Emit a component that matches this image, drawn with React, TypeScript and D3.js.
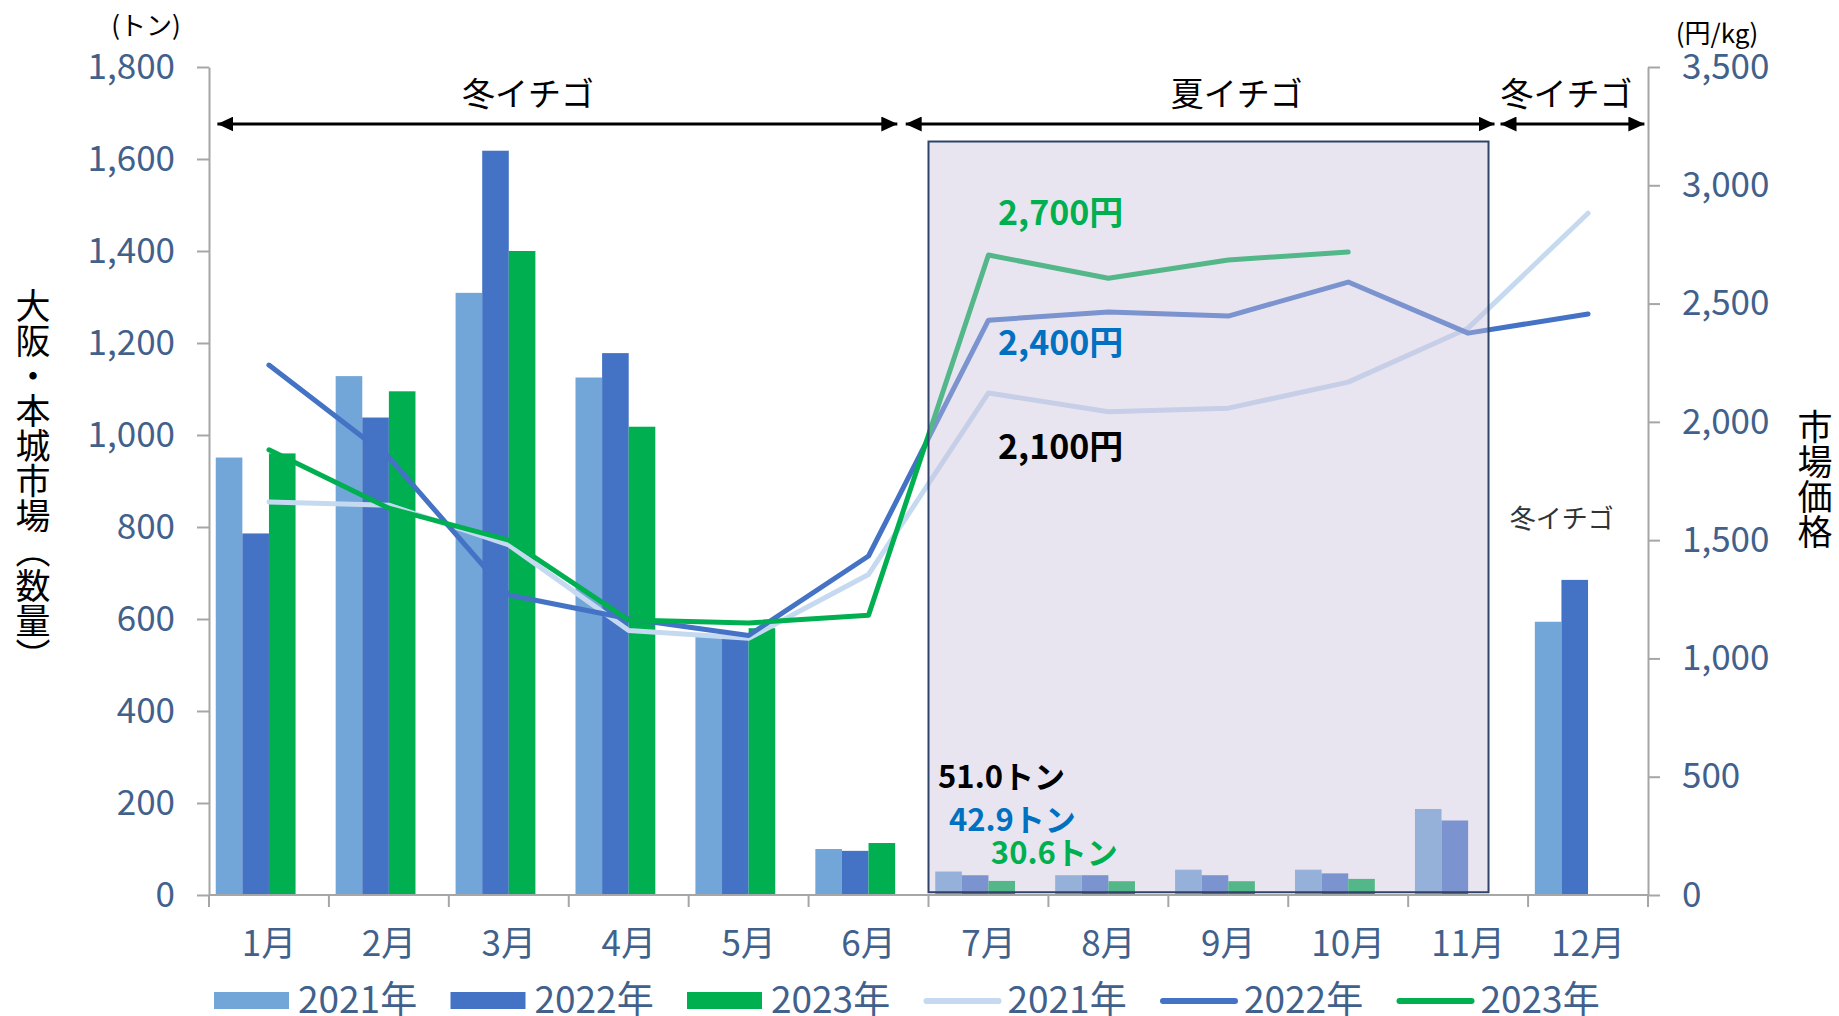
import { useEffect, useRef } from 'react'
import * as d3 from 'd3'

const months = ['1月', '2月', '3月', '4月', '5月', '6月', '7月', '8月', '9月', '10月', '11月', '12月']
const years = ['2021年', '2022年', '2023年']

// 数量（トン）
const tons2021 = [951, 1128, 1309, 1125, 565, 100, 51.0, 43, 55, 55, 187, 594]
const tons2022 = [786, 1038, 1618, 1178, 558, 96, 42.9, 43, 43, 47, 162, 685]
const tons2023 = [960, 1095, 1400, 1018, 580, 113, 30.6, 30, 30, 35, null, null]

// 市場価格（円/kg）
const price2021 = [1661, 1648, 1480, 1118, 1085, 1355, 2122, 2043, 2058, 2168, 2396, 2882]
const price2022 = [2240, 1850, 1268, 1168, 1097, 1433, 2430, 2464, 2447, 2591, 2375, 2456]
const price2023 = [1882, 1635, 1500, 1162, 1150, 1183, 2705, 2607, 2684, 2718, null, null]

const tonTicks = [0, 200, 400, 600, 800, 1000, 1200, 1400, 1600, 1800]
const priceTicks = [0, 500, 1000, 1500, 2000, 2500, 3000, 3500]

// season arrows, in month-index units
const seasons = [
  { label: '冬イチゴ', from: 0.07, to: 5.74, at: 2.66 },
  { label: '夏イチゴ', from: 5.81, to: 10.72, at: 8.57 },
  { label: '冬イチゴ', from: 10.77, to: 11.97, at: 11.32 },
]

const priceNotes = [
  { text: '2,700円', value: 2882, color: '#00B050' },
  { text: '2,400円', value: 2333, color: '#0070C0' },
  { text: '2,100円', value: 1893, color: '#000000' },
]

const tonNotes = [
  { text: '51.0トン', value: 256, at: 6.08, color: '#000000' },
  { text: '42.9トン', value: 163, at: 6.17, color: '#0070C0' },
  { text: '30.6トン', value: 91, at: 6.52, color: '#00B050' },
]

const barColors = ['#72A5D8', '#4472C4', '#00B050']
const lineColors = ['#C5DAF0', '#4472C4', '#00B050']
const tickColor = '#41618C'
const FONT = "'Noto Sans CJK JP', 'Noto Sans', sans-serif"

function App() {
  const svgRef = useRef(null)

  useEffect(() => {
    if (!svgRef.current) return
    const svg = d3.select(svgRef.current)
    svg.selectAll('*').remove()

    const W = 1839
    const H = 1016
    const left = 209
    const right = 1648
    const top = 67
    const bottom = 895

    svg.attr('width', W).attr('height', H).style('font-family', FONT)

    const x = d3.scaleBand().domain(months).range([left, right]).padding(0)
    const xi = d3.scaleLinear().domain([0, months.length]).range([left, right])
    // the original chart reserves a 4th (empty) slot in each month
    const sub = d3
      .scaleBand()
      .domain([...years, ''])
      .range([0, x.bandwidth()])
      .paddingInner(0)
      .paddingOuter(0.254)
    const yTon = d3.scaleLinear().domain([0, 1800]).range([bottom, top])
    const yPrice = d3.scaleLinear().domain([0, 3500]).range([bottom, top])

    const tons = [tons2021, tons2022, tons2023]
    const prices = [price2021, price2022, price2023]

    // bars
    tons.forEach((series, i) => {
      svg
        .append('g')
        .selectAll('rect')
        .data(series.map((v, j) => ({ v, m: months[j] })).filter((d) => d.v != null))
        .enter()
        .append('rect')
        .attr('x', (d) => x(d.m) + sub(years[i]))
        .attr('y', (d) => yTon(d.v))
        .attr('width', sub.bandwidth())
        .attr('height', (d) => yTon(0) - yTon(d.v))
        .attr('fill', barColors[i])
    })

    // lines
    const line = d3
      .line()
      .defined((d) => d != null)
      .x((d, j) => x(months[j]) + x.bandwidth() / 2)
      .y((d) => yPrice(d))

    prices.forEach((series, i) => {
      svg
        .append('path')
        .datum(series)
        .attr('d', line)
        .attr('fill', 'none')
        .attr('stroke', lineColors[i])
        .attr('stroke-width', 5)
        .attr('stroke-linejoin', 'round')
        .attr('stroke-linecap', 'round')
    })

    // summer box
    svg
      .append('rect')
      .attr('x', xi(6))
      .attr('y', yTon(1638))
      .attr('width', xi(10.67) - xi(6))
      .attr('height', yTon(6) - yTon(1638))
      .attr('fill', 'rgba(200,194,220,0.42)')
      .attr('stroke', '#2F4468')
      .attr('stroke-width', 2)

    // axes
    const axisStyle = (g) => {
      g.select('.domain').attr('stroke', '#A6A6A6').attr('stroke-width', 2)
      g.selectAll('.tick line').attr('stroke', '#A6A6A6').attr('stroke-width', 2)
      g.selectAll('.tick text')
        .attr('fill', tickColor)
        .style('font-size', '35px')
        .style('font-family', FONT)
    }

    svg
      .append('g')
      .attr('transform', `translate(${left},0)`)
      .call(
        d3.axisLeft(yTon).tickValues(tonTicks).tickSize(12).tickSizeOuter(0).tickPadding(22).tickFormat(d3.format(','))
      )
      .call(axisStyle)

    svg
      .append('g')
      .attr('transform', `translate(${right},0)`)
      .call(
        d3.axisRight(yPrice).tickValues(priceTicks).tickSize(12).tickSizeOuter(0).tickPadding(22).tickFormat(d3.format(','))
      )
      .call(axisStyle)

    const xAxis = svg.append('g')
    xAxis
      .append('line')
      .attr('x1', left)
      .attr('x2', right)
      .attr('y1', bottom)
      .attr('y2', bottom)
      .attr('stroke', '#A6A6A6')
      .attr('stroke-width', 2)
    xAxis
      .selectAll('.xt')
      .data(d3.range(months.length + 1))
      .enter()
      .append('line')
      .attr('x1', (d) => xi(d))
      .attr('x2', (d) => xi(d))
      .attr('y1', bottom)
      .attr('y2', bottom + 12)
      .attr('stroke', '#A6A6A6')
      .attr('stroke-width', 2)
    xAxis
      .selectAll('.xl')
      .data(months)
      .enter()
      .append('text')
      .attr('x', (d) => x(d) + x.bandwidth() / 2)
      .attr('y', 944)
      .attr('dy', '0.35em')
      .attr('text-anchor', 'middle')
      .attr('fill', tickColor)
      .style('font-size', '35px')
      .text((d) => d)

    // unit labels
    svg.append('text').attr('x', 146).attr('y', 26).attr('dy', '0.35em').attr('text-anchor', 'middle')
      .style('font-size', '26px').text('(トン)')
    svg.append('text').attr('x', 1717).attr('y', 34).attr('dy', '0.35em').attr('text-anchor', 'middle')
      .style('font-size', '26px').text('(円/kg)')

    // vertical axis titles
    svg.append('text').attr('x', 33).attr('y', 481).attr('text-anchor', 'middle')
      .style('writing-mode', 'vertical-rl').style('font-size', '35px').text('大阪・本城市場（数量）')
    svg.append('text').attr('x', 1815).attr('y', 479).attr('text-anchor', 'middle')
      .style('writing-mode', 'vertical-rl').style('font-size', '35px').text('市場価格')

    // season arrows
    const defs = svg.append('defs')
    defs
      .append('marker')
      .attr('id', 'ah')
      .attr('viewBox', '0 0 10 10')
      .attr('refX', 10)
      .attr('refY', 5)
      .attr('markerWidth', 16)
      .attr('markerHeight', 15)
      .attr('markerUnits', 'userSpaceOnUse')
      .attr('preserveAspectRatio', 'none')
      .attr('orient', 'auto-start-reverse')
      .append('path')
      .attr('d', 'M0,0L10,5L0,10Z')
      .attr('fill', '#000')

    seasons.forEach((s) => {
      svg
        .append('line')
        .attr('x1', xi(s.from))
        .attr('x2', xi(s.to))
        .attr('y1', 124)
        .attr('y2', 124)
        .attr('stroke', '#000')
        .attr('stroke-width', 3)
        .attr('marker-start', 'url(#ah)')
        .attr('marker-end', 'url(#ah)')
      svg
        .append('text')
        .attr('x', xi(s.at))
        .attr('y', 94)
        .attr('dy', '0.35em')
        .attr('text-anchor', 'middle')
        .style('font-size', '33px')
        .text(s.label)
    })

    svg
      .append('text')
      .attr('x', xi(11.28))
      .attr('y', yTon(817))
      .attr('dy', '0.35em')
      .attr('text-anchor', 'middle')
      .attr('fill', '#333')
      .style('font-size', '26px')
      .text('冬イチゴ')

    priceNotes.forEach((n) => {
      svg
        .append('text')
        .attr('x', xi(6.58))
        .attr('y', yPrice(n.value))
        .attr('dy', '0.35em')
        .attr('fill', n.color)
        .style('font-size', '34px')
        .style('font-weight', 'bold')
        .text(n.text)
    })

    tonNotes.forEach((n) => {
      svg
        .append('text')
        .attr('x', xi(n.at))
        .attr('y', yTon(n.value))
        .attr('dy', '0.35em')
        .attr('fill', n.color)
        .style('font-size', '31px')
        .style('font-weight', 'bold')
        .text(n.text)
    })

    // legend
    const legendItems = [
      ...years.map((y, i) => ({ label: y, color: barColors[i], kind: 'bar' })),
      ...years.map((y, i) => ({ label: y, color: lineColors[i], kind: 'line' })),
    ]
    legendItems.forEach((d, i) => {
      const g = svg.append('g').attr('transform', `translate(${214 + i * 236.5}, 1001)`)
      if (d.kind === 'bar') {
        g.append('rect').attr('x', 0).attr('y', -9).attr('width', 75).attr('height', 17).attr('fill', d.color)
      } else {
        g.append('line').attr('x1', 3).attr('x2', 75).attr('y1', 0).attr('y2', 0)
          .attr('stroke', d.color).attr('stroke-width', 6).attr('stroke-linecap', 'round')
      }
      g.append('text')
        .attr('x', 84)
        .attr('y', 12)
        .attr('fill', tickColor)
        .style('font-size', '37px')
        .text(d.label)
    })
  }, [])

  return (
    <div>
      <svg ref={svgRef} style={{ position: 'absolute', left: 0, top: 0 }}></svg>
    </div>
  )
}

export default App
